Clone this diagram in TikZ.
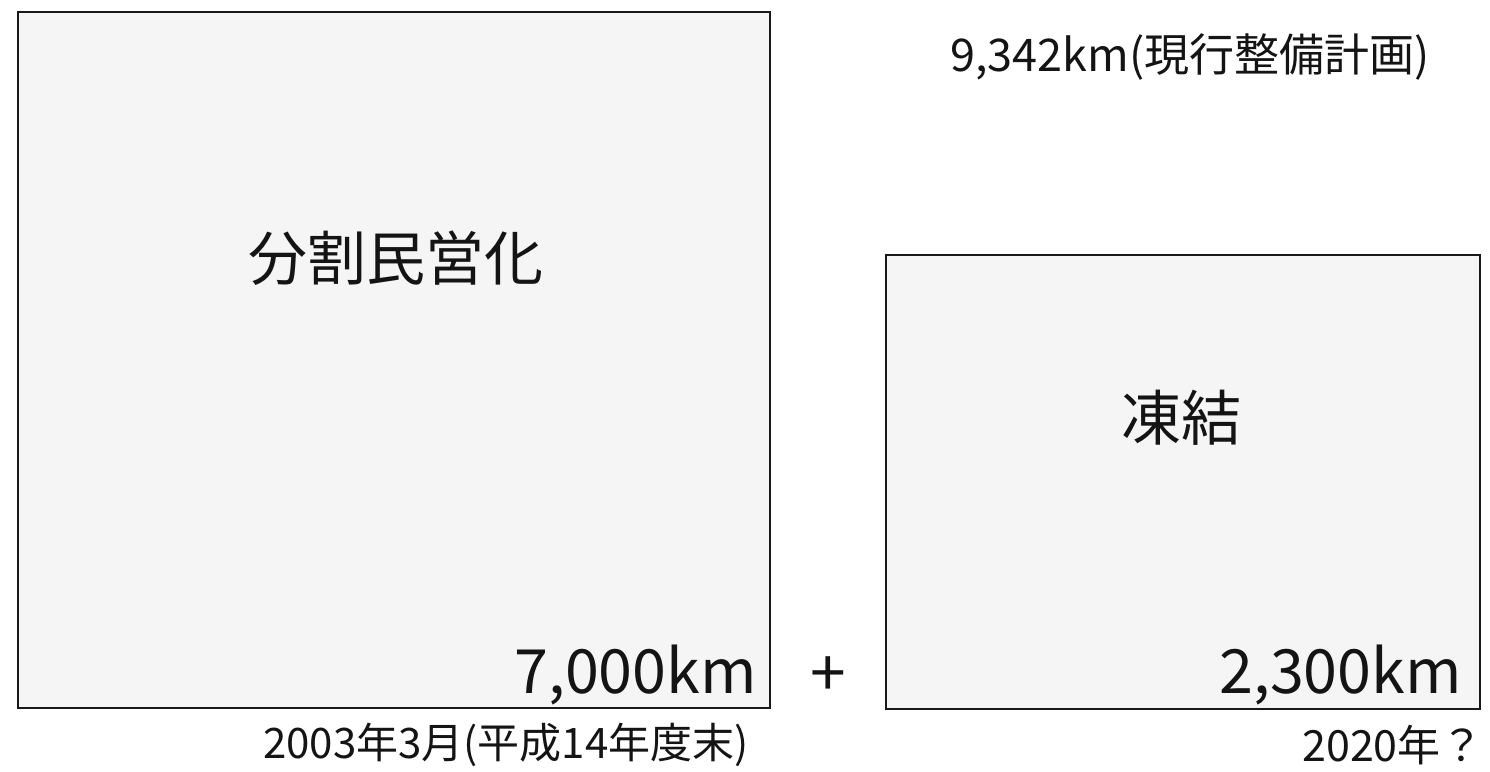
\documentclass[tikz,border=0pt]{standalone}
\usepackage{fontspec}
\setmainfont{Noto Sans CJK JP}
\tikzset{
  panel/.style={draw=black!90, line width=2.6pt, fill=black!4},
  lbl/.style={inner sep=0pt, text=black!92},
}
\begin{document}
\begin{tikzpicture}[x=1pt,y=-1pt]
\useasboundingbox (0,0) rectangle (1490,771);
\fill[white] (0,0) rectangle (1490,771);
\draw[panel] (18,12) rectangle (770,708);
\draw[panel] (886,255) rectangle (1480,709);
\node[lbl, font=\fontsize{59}{60}\selectfont] (t1) at (396,258) {分割民営化};
\node[lbl, font=\fontsize{60}{62}\selectfont] (t2) at (1181,418) {凍結};
\node[lbl, font=\fontsize{61}{62}\selectfont, anchor=base east] (k1) at (757,693) {7,000km};
\node[lbl, font=\fontsize{61}{62}\selectfont, anchor=base east] (k2) at (1462,693) {2,300km};
\node[lbl, font=\fontsize{64}{62}\selectfont] (plus) at (828,677) {+};
\node[lbl, font=\fontsize{45}{46}\selectfont] (top) at (1190,57) {9,342km(現行整備計画)};
\node[lbl, font=\fontsize{42}{44}\selectfont] (d1) at (506,745) {2003年3月(平成14年度末)};
\node[lbl, font=\fontsize{43}{44}\selectfont, anchor=east] (d2) at (1484,745) {2020年？};
\end{tikzpicture}
\end{document}
